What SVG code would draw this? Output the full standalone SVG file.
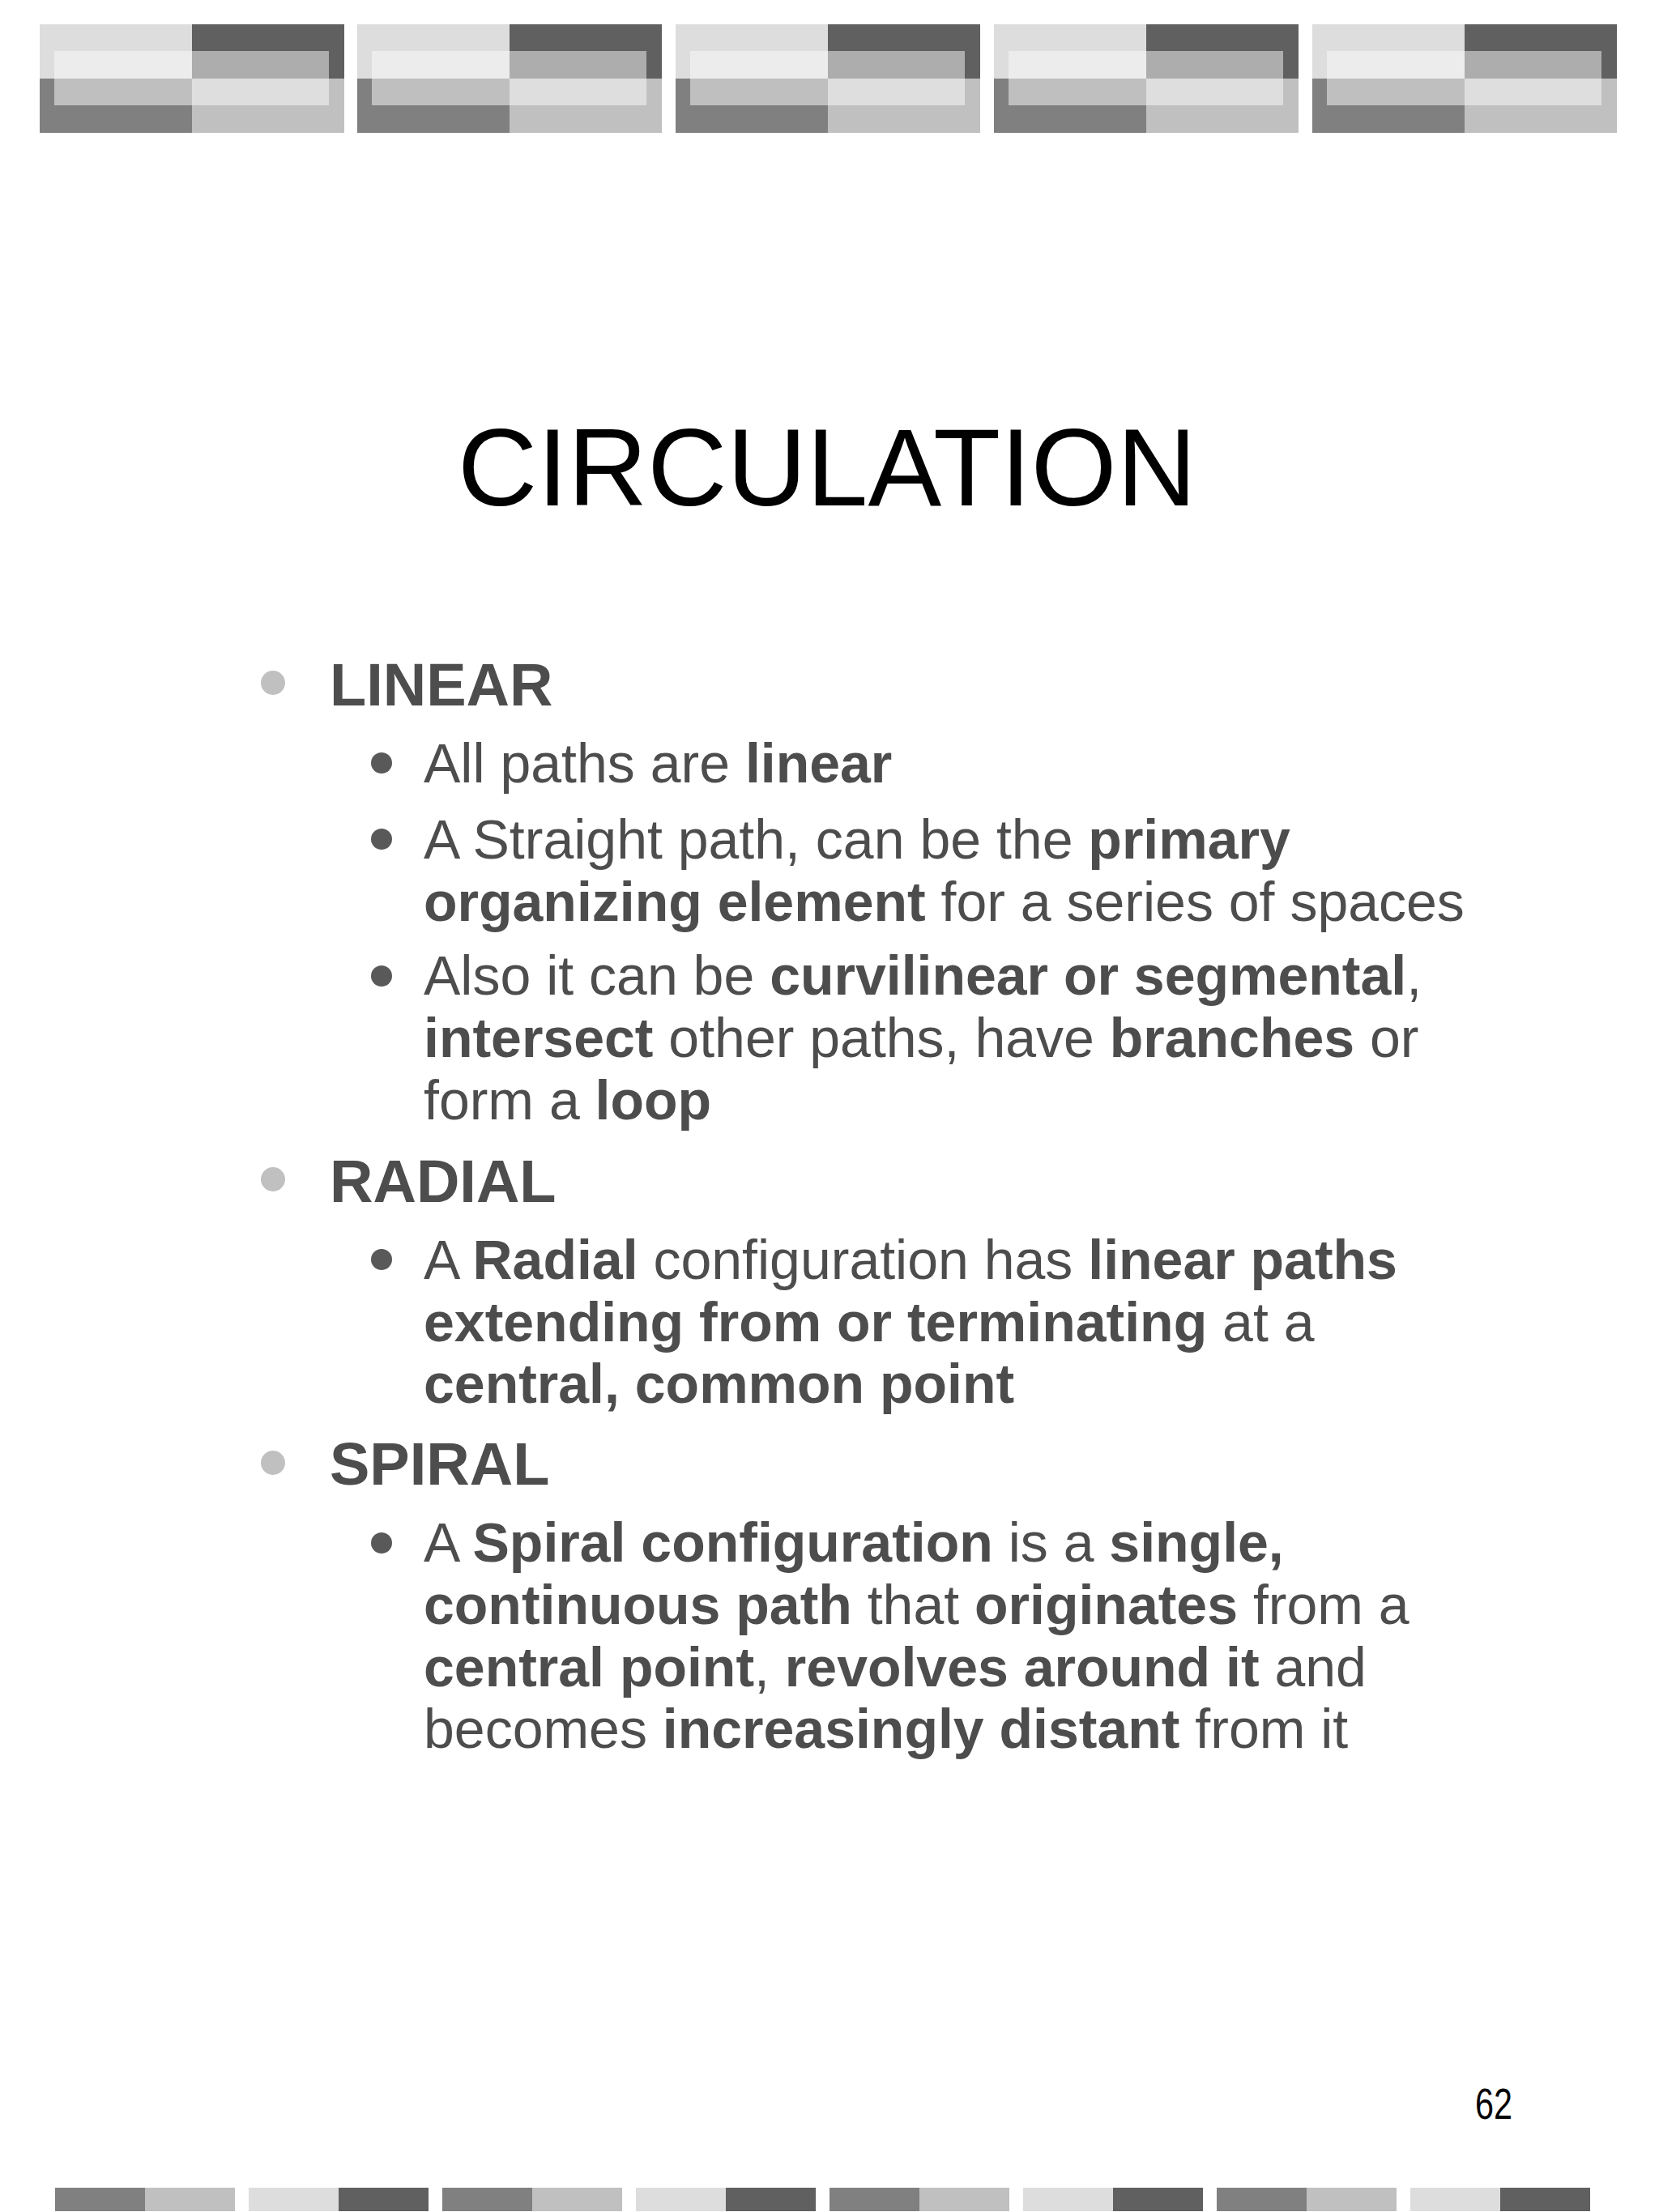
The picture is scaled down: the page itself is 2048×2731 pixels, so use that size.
<svg xmlns="http://www.w3.org/2000/svg" width="2048" height="2731" viewBox="0 0 2048 2731">
<defs>
<style>
.t{font-family:"Liberation Sans",Arial,sans-serif;fill:#4d4d4d}
.h{font-size:74px;font-weight:bold}
.s{font-size:68px}
.b{font-weight:bold}
</style>
<g id="blk">
<rect x="0" y="0" width="188" height="67" fill="#dddddd"/>
<rect x="188" y="0" width="188" height="67" fill="#606060"/>
<rect x="0" y="67" width="188" height="67" fill="#808080"/>
<rect x="188" y="67" width="188" height="67" fill="#c0c0c0"/>
<rect x="18" y="33" width="170" height="34" fill="#ececec"/>
<rect x="188" y="33" width="169" height="34" fill="#adadad"/>
<rect x="18" y="67" width="170" height="33" fill="#bfbfbf"/>
<rect x="188" y="67" width="169" height="33" fill="#dedede"/>
</g>
<g id="sq">
<rect x="0" y="0" width="111" height="29" fill="#808080"/>
<rect x="111" y="0" width="111" height="29" fill="#c0c0c0"/>
</g>
<g id="sq2">
<rect x="0" y="0" width="111" height="29" fill="#dddddd"/>
<rect x="111" y="0" width="111" height="29" fill="#606060"/>
</g>
</defs>
<rect width="2048" height="2731" fill="#ffffff"/>
<g id="top-banner">
<use href="#blk" x="49" y="30"/>
<use href="#blk" x="441" y="30"/>
<use href="#blk" x="834" y="30"/>
<use href="#blk" x="1227" y="30"/>
<use href="#blk" x="1620" y="30"/>
</g>
<g id="bottom-banner">
<use href="#sq" x="68" y="2701"/>
<use href="#sq2" x="307" y="2701"/>
<use href="#sq" x="546" y="2701"/>
<use href="#sq2" x="785" y="2701"/>
<use href="#sq" x="1024" y="2701"/>
<use href="#sq2" x="1263" y="2701"/>
<use href="#sq" x="1502" y="2701"/>
<use href="#sq2" x="1741" y="2701"/>
</g>
<g id="title">
<text x="1021" y="624" text-anchor="middle" font-family="Liberation Sans,Arial,sans-serif" font-size="136" fill="#000">CIRCULATION</text>
</g>
<g id="bullets">
<circle cx="337" cy="843" r="15" fill="#c0c0c0"/>
<circle cx="337" cy="1456" r="15" fill="#c0c0c0"/>
<circle cx="337" cy="1806" r="15" fill="#c0c0c0"/>
<circle cx="471" cy="942" r="13" fill="#595959"/>
<circle cx="471" cy="1036" r="13" fill="#595959"/>
<circle cx="471" cy="1205" r="13" fill="#595959"/>
<circle cx="471" cy="1555" r="13" fill="#595959"/>
<circle cx="471" cy="1905" r="13" fill="#595959"/>
</g>
<g id="linear">
<text class="t h" x="407" y="871">LINEAR</text>
<text class="t s" x="523" y="966">All paths are <tspan class="b">linear</tspan></text>
<text class="t s" x="523" y="1060">A Straight path, can be the <tspan class="b">primary</tspan></text>
<text class="t s" x="523" y="1137"><tspan class="b">organizing element</tspan> for a series of spaces</text>
<text class="t s" x="523" y="1228">Also it can be <tspan class="b">curvilinear or segmental</tspan>,</text>
<text class="t s" x="523" y="1305"><tspan class="b">intersect</tspan> other paths, have <tspan class="b">branches</tspan> or</text>
<text class="t s" x="523" y="1382">form a <tspan class="b">loop</tspan></text>
</g>
<g id="radial">
<text class="t h" x="407" y="1484">RADIAL</text>
<text class="t s" x="523" y="1579">A <tspan class="b">Radial</tspan> configuration has <tspan class="b">linear paths</tspan></text>
<text class="t s" x="523" y="1656"><tspan class="b">extending from or terminating</tspan> at a</text>
<text class="t s" x="523" y="1732"><tspan class="b">central, common point</tspan></text>
</g>
<g id="spiral">
<text class="t h" x="407" y="1833">SPIRAL</text>
<text class="t s" x="523" y="1928">A <tspan class="b">Spiral configuration</tspan> is a <tspan class="b">single,</tspan></text>
<text class="t s" x="523" y="2005"><tspan class="b">continuous path</tspan> that <tspan class="b">originates</tspan> from a</text>
<text class="t s" x="523" y="2082"><tspan class="b">central point</tspan>, <tspan class="b">revolves around it</tspan> and</text>
<text class="t s" x="523" y="2158">becomes <tspan class="b">increasingly distant</tspan> from it</text>
</g>
<g id="page-number">
<text transform="translate(1844 2616) scale(0.78 1)" text-anchor="middle" font-family="Liberation Sans,sans-serif" font-size="53" fill="#000">62</text>
</g>
</svg>
